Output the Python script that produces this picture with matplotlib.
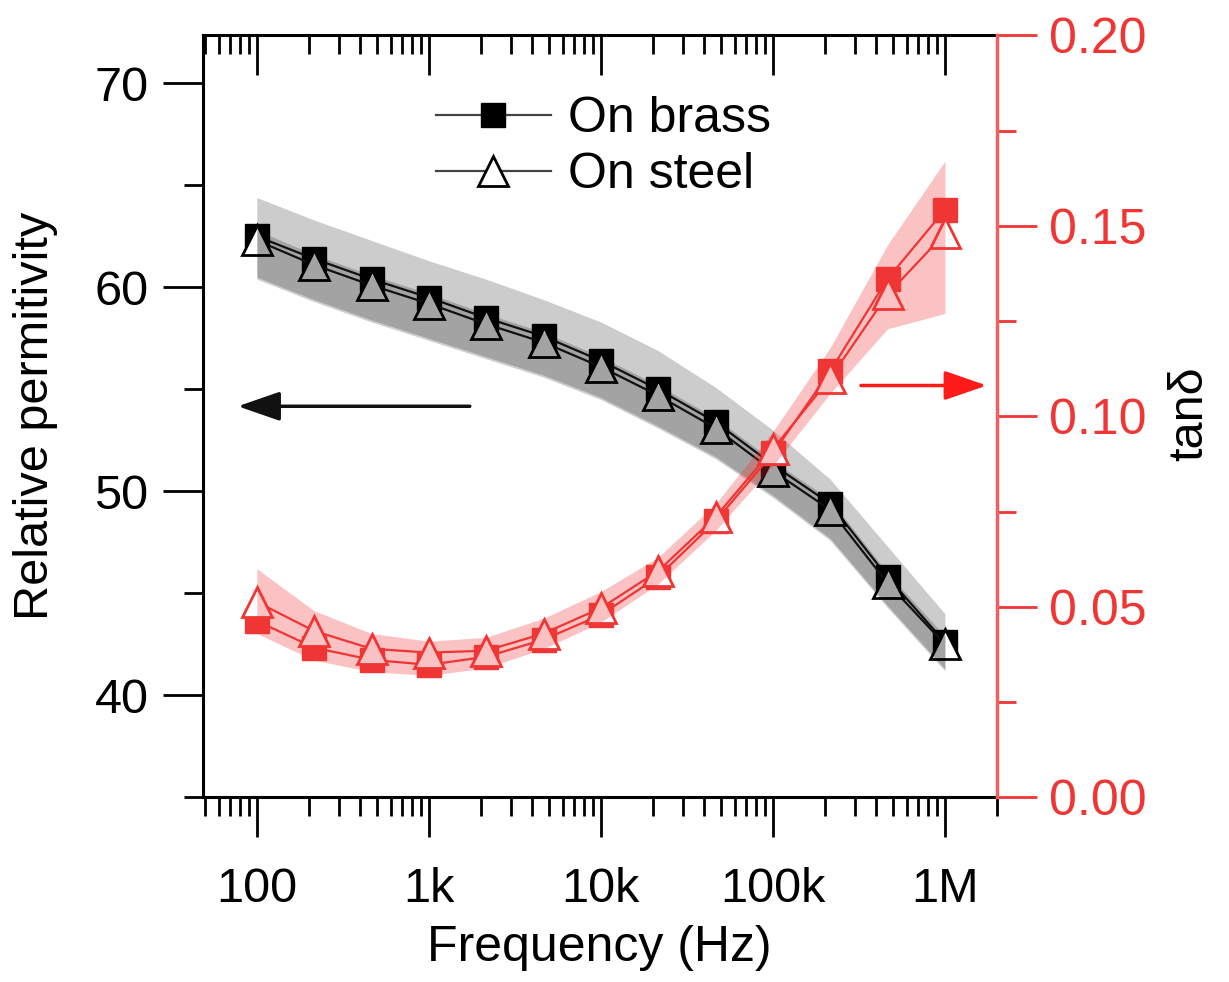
import numpy as np
import matplotlib
matplotlib.use("Agg")
import matplotlib.pyplot as plt
from matplotlib.ticker import LogLocator, MultipleLocator, NullFormatter

plt.rcParams['font.family'] = ['Liberation Sans', 'DejaVu Sans']

# frequency points (Hz), 3 per decade
freq = [100, 215, 464, 1e3, 2.15e3, 4.64e3, 1e4, 2.15e4, 4.64e4, 1e5, 2.15e5, 4.64e5, 1e6]

# relative permittivity
eps_brass = [62.5, 61.4, 60.4, 59.5, 58.5, 57.6, 56.4, 55.0, 53.4, 51.3, 49.4, 45.8, 42.6]
eps_steel = [62.3, 61.1, 60.1, 59.2, 58.2, 57.3, 56.1, 54.7, 53.1, 51.0, 49.1, 45.5, 42.5]
eps_brass_hi = [64.4, 63.3, 62.3, 61.3, 60.4, 59.4, 58.3, 56.9, 55.1, 53.0, 50.6, 47.3, 44.0]
eps_brass_lo = [60.5, 59.4, 58.4, 57.5, 56.6, 55.7, 54.6, 53.2, 51.7, 49.8, 47.7, 44.4, 41.3]
eps_steel_hi = [62.8, 61.6, 60.6, 59.7, 58.7, 57.8, 56.6, 55.2, 53.6, 51.5, 49.6, 46.0, 42.9]
eps_steel_lo = [60.4, 59.3, 58.3, 57.4, 56.5, 55.6, 54.5, 53.1, 51.6, 49.7, 47.6, 44.3, 41.2]

# loss tangent
tan_brass = [0.0463, 0.0393, 0.0361, 0.0348, 0.0369, 0.0414, 0.0479, 0.0579, 0.0725, 0.0903, 0.1118, 0.1361, 0.1542]
tan_steel = [0.0513, 0.0437, 0.0390, 0.0380, 0.0385, 0.0430, 0.0497, 0.0594, 0.0736, 0.0914, 0.1100, 0.1320, 0.1480]
tan_hi = [0.060, 0.049, 0.043, 0.041, 0.042, 0.047, 0.054, 0.063, 0.077, 0.096, 0.118, 0.145, 0.167]
tan_lo = [0.043, 0.036, 0.033, 0.032, 0.034, 0.039, 0.046, 0.056, 0.070, 0.087, 0.106, 0.123, 0.127]

xtick_vals = [1e2, 1e3, 1e4, 1e5, 1e6]
xtick_labels = ['100', '1k', '10k', '100k', '1M']
rtick_vals = [0.00, 0.05, 0.10, 0.15, 0.20]
rtick_labels = ['0.00', '0.05', '0.10', '0.15', '0.20']

red = '#f03535'
fs = 35
rect = [0.165, 0.188, 0.646, 0.776]

fig = plt.figure(figsize=(12.29, 9.82), dpi=100)
ax = fig.add_axes(rect)

# permittivity curves
ax.plot(freq, eps_brass, '-', color='#1a1a1a', lw=1.6, marker='s', ms=17,
        mfc='black', mec='black', label='On brass', zorder=3)
ax.plot(freq, eps_steel, '-', color='#1a1a1a', lw=1.6, marker='^', ms=21,
        mfc='white', mec='black', mew=2, label='On steel', zorder=4)
ax.fill_between(freq, eps_brass_lo, eps_brass_hi, color='black', alpha=0.2, lw=0, zorder=5)
ax.fill_between(freq, eps_steel_lo, eps_steel_hi, color='black', alpha=0.2, lw=0, zorder=5)

ax.set_xscale('log')
ax.set_xlim(48.5, 2.0e6)
ax.set_ylim(35, 72.35)
ax.set_xticks(xtick_vals, xtick_labels)
ax.xaxis.set_minor_locator(LogLocator(base=10, subs=np.arange(2, 10)))
ax.xaxis.set_minor_formatter(NullFormatter())
ax.yaxis.set_major_locator(MultipleLocator(10))
ax.yaxis.set_minor_locator(MultipleLocator(5))

ax.tick_params(axis='both', which='major', direction='out', length=29, width=2,
               labelsize=fs, top=False, right=False)
ax.tick_params(axis='both', which='minor', direction='out', length=14, width=2,
               top=False, right=False)
ax.tick_params(axis='x', which='major', pad=21)
ax.tick_params(axis='y', which='major', pad=10)
for s in ['left', 'bottom', 'top']:
    ax.spines[s].set_linewidth(2.2)
ax.spines['right'].set_visible(False)

ax.set_xlabel('Frequency (Hz)', fontsize=fs + 1)
ax.set_ylabel('Relative permitivity', fontsize=fs)
ax.xaxis.set_label_coords(0.5, -0.167)
ax.yaxis.set_label_coords(-0.182, 0.5)

ax.annotate('', xy=(77.5, 54.17), xytext=(1730, 54.17),
            arrowprops=dict(arrowstyle='-|>,head_length=1.3,head_width=0.45',
                            mutation_scale=20, color='#111111', lw=2.5,
                            shrinkA=0, shrinkB=0), zorder=6)

leg = ax.legend(loc='center', bbox_to_anchor=(0.505, 0.853), frameon=False,
                fontsize=fs + 1, handlelength=2.3, handletextpad=0.35,
                labelspacing=0.2)
for h in leg.legend_handles:
    h.set_color('#444444')
    h.set_markeredgecolor('black')

# overlay axes just for inward ticks along the top
axt = fig.add_axes(rect, sharex=ax, frameon=False)
axt.patch.set_visible(False)
axt.yaxis.set_visible(False)
axt.tick_params(axis='x', which='major', direction='in', length=29, width=2,
                top=True, bottom=False, labeltop=False, labelbottom=False)
axt.tick_params(axis='x', which='minor', direction='in', length=14, width=2,
                top=True, bottom=False)

# loss tangent on right axis
ax2 = ax.twinx()
ax2.plot(freq, tan_brass, '-', color=red, lw=1.6, marker='s', ms=17,
         mfc=red, mec=red, zorder=3)
ax2.plot(freq, tan_steel, '-', color=red, lw=1.6, marker='^', ms=21,
         mfc='white', mec=red, mew=2, zorder=4)
ax2.fill_between(freq, tan_lo, tan_hi, color=red, alpha=0.3, lw=0, zorder=5)
ax2.set_ylim(0, 0.2)
ax2.set_yticks(rtick_vals, rtick_labels)
ax2.yaxis.set_minor_locator(MultipleLocator(0.025))
ax2.tick_params(axis='y', which='major', direction='out', length=29, width=2,
                labelsize=fs + 1, colors=red, pad=9)
ax2.tick_params(axis='y', which='minor', direction='out', length=14, width=2, colors=red)
for s in ['left', 'bottom', 'top']:
    ax2.spines[s].set_visible(False)
ax2.spines['right'].set_color('#f06060')
ax2.spines['right'].set_linewidth(2.5)
ax2.set_ylabel('tan\u03b4', fontsize=fs, color='black')
ax2.yaxis.set_label_coords(1.215, 0.503)

ax2.annotate('', xy=(1.75e6, 0.1081), xytext=(3.25e5, 0.1081),
             arrowprops=dict(arrowstyle='-|>,head_length=1.3,head_width=0.45',
                             mutation_scale=20, color='#ff1a1a', lw=2.5,
                             shrinkA=0, shrinkB=0), zorder=6)

fig.savefig('out.png', dpi=100)
